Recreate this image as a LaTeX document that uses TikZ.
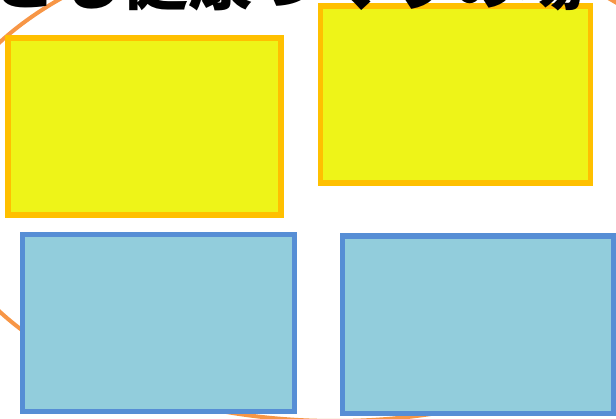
\documentclass[tikz,border=0pt]{standalone}
\usepackage{fontspec}
\newfontfamily\jpfont{Noto Sans CJK JP}
\usepackage{xcolor}
\definecolor{boxyellow}{RGB}{238,244,24}
\definecolor{edgeorange}{RGB}{255,192,0}
\definecolor{boxblue}{RGB}{146,205,220}
\definecolor{edgeblue}{RGB}{86,142,213}
\definecolor{ringorange}{RGB}{247,150,70}
\usetikzlibrary{positioning}

\begin{document}
\begin{tikzpicture}[
    x=1pt, y=-1pt,
    card/.style={rectangle, draw, line width=5.5pt, inner sep=0pt, minimum width=272pt, minimum height=177pt},
    goalcard/.style={card, fill=boxyellow, draw=edgeorange},
    groupcard/.style={card, fill=boxblue, draw=edgeblue},
    ring/.style={draw=ringorange, line width=4pt},
    heading/.style={font=\jpfont\bfseries\fontsize{66}{66}\selectfont, inner sep=0pt, anchor=base west}
  ]
    \useasboundingbox (0,0) rectangle (616,419);
    \clip (0,0) rectangle (616,419);

    % Background ring
    \draw [ring] (335,177) ellipse [x radius=402pt, y radius=244pt];

    % Upper row
    \node [goalcard, minimum width=273pt] (goalA) at (144.5,126.5) {};
    \node [goalcard, minimum width=270pt] (goalB) at (455.5,94.5) {};

    % Lower row
    \node [groupcard] (groupA) at (158.5,323.25) {};
    \node [groupcard, minimum width=271pt, minimum height=177.5pt] (groupB) at (478,324.75) {};

    % Title (cut by the frame)
    \node [heading] (title) at (-10,5) {とも健康づくりの場};
\end{tikzpicture}
\end{document}
